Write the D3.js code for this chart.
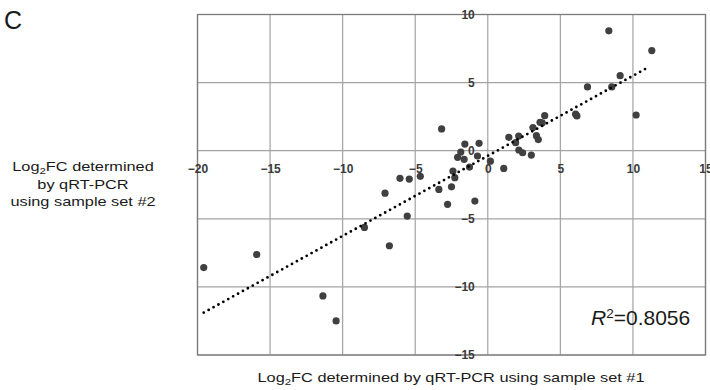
<!DOCTYPE html>
<html>
<head>
<meta charset="utf-8">
<script src="https://cdn.jsdelivr.net/npm/d3@7"></script>
<style>
  body { margin: 0; background: #fff; }
  svg { display: block; font-family: "Liberation Sans", Arial, sans-serif; }
  .tick text { font-weight: bold; fill: #3a3a3a; font-size: 12px; }
</style>
</head>
<body>
<svg width="710" height="390"></svg>
<script>
// values
var xTicks = [-20, -15, -10, -5, 0, 5, 10, 15];
var yTicks = [-15, -10, -5, 0, 5, 10];

var set1 = [-19.57, -15.92, -11.36, -10.45, -8.5, -6.78, -7.08, -5.55, -6.05, -5.41,
  -4.65, -3.37, -2.77, -0.89, -2.5, -2.27, -2.4, -1.26, -3.18, -1.58,
  -0.6, -1.86, -2.08, -1.63, -0.71, 0.18, 1.1, 1.45, 2.13, 1.92,
  2.14, 2.4, 3.0, 3.11, 3.35, 3.48, 3.6, 3.75, 3.92, 6.05,
  6.14, 6.87, 8.54, 9.12, 10.22, 8.34, 11.3];
var set2 = [-8.58, -7.62, -10.66, -12.5, -5.63, -6.98, -3.12, -4.8, -2.03, -2.08,
  -1.88, -2.84, -3.94, -3.7, -2.65, -1.98, -1.49, -1.2, 1.6, 0.49,
  0.54, -0.1, -0.49, -0.63, -0.39, -0.77, -1.3, 0.98, 1.08, 0.59,
  0.05, -0.15, -0.32, 1.7, 1.1, 0.82, 2.09, 2.05, 2.57, 2.68,
  2.55, 4.68, 4.68, 5.51, 2.62, 8.8, 7.35];

var trendSlope = 0.588;
var trendIntercept = -0.38;
var r2Label = "=0.8056";

var svg = d3.select("svg");

var x = d3.scaleLinear().domain([-20, 15]).range([197.5, 705.5]);
var y = d3.scaleLinear().domain([-15, 10]).range([355, 14.5]);

var g = svg.append("g");

// grid
g.selectAll(".vgrid")
  .data(xTicks)
  .enter()
  .append("line")
  .attr("x1", function(d) { return x(d); })
  .attr("x2", function(d) { return x(d); })
  .attr("y1", y(-15))
  .attr("y2", y(10))
  .attr("stroke", "#a3a3a3")
  .attr("stroke-width", 1.2);

g.selectAll(".hgrid")
  .data(yTicks)
  .enter()
  .append("line")
  .attr("x1", x(-20))
  .attr("x2", x(15))
  .attr("y1", function(d) { return y(d); })
  .attr("y2", function(d) { return y(d); })
  .attr("stroke", "#a3a3a3")
  .attr("stroke-width", 1.2);

g.append("rect")
  .attr("x", x(-20))
  .attr("y", y(10))
  .attr("width", x(15) - x(-20))
  .attr("height", y(-15) - y(10))
  .attr("fill", "none")
  .attr("stroke", "#7a7a7a")
  .attr("stroke-width", 1.3);

// axes crossing at zero
var xAxis = g.append("g")
  .attr("transform", "translate(0," + y(0) + ")")
  .call(d3.axisBottom(x).tickValues(xTicks).tickSize(0).tickPadding(14));
xAxis.select(".domain").remove();

var yAxis = g.append("g")
  .attr("transform", "translate(" + x(0) + ",0)")
  .call(d3.axisLeft(y).tickValues(yTicks).tickSize(0).tickPadding(13));
yAxis.select(".domain").remove();

svg.selectAll(".tick text").attr("font-family", null).attr("font-size", null);

// points
g.selectAll(".dot")
  .data(set1)
  .enter()
  .append("circle")
  .attr("class", "dot")
  .attr("cx", function(d) { return x(d); })
  .attr("cy", function(d, i) { return y(set2[i]); })
  .attr("r", 3.6)
  .attr("fill", "#404040");

// trend line
var xMin = d3.min(set1), xMax = d3.max(set1) - 0.3;
g.append("line")
  .attr("x1", x(xMin))
  .attr("y1", y(trendSlope * xMin + trendIntercept))
  .attr("x2", x(xMax))
  .attr("y2", y(trendSlope * xMax + trendIntercept))
  .attr("stroke", "#000")
  .attr("stroke-width", 2.8)
  .attr("stroke-linecap", "round")
  .attr("stroke-dasharray", "0 5.6");

// R squared
var r2 = svg.append("text")
  .attr("x", 591)
  .attr("y", 325)
  .style("font-size", "21px")
  .style("fill", "#1a1a1a");
r2.append("tspan").style("font-style", "italic").text("R");
r2.append("tspan").attr("dy", -7.5).style("font-size", "13.5px").text("2");
r2.append("tspan").attr("dy", 7.5).text(r2Label);

// panel letter
svg.append("text")
  .attr("x", 4)
  .attr("y", 29)
  .style("font-size", "25px")
  .style("fill", "#1a1a1a")
  .text("C");

// y title (text in the figure is a little stretched sideways)
var yTitle = svg.append("g")
  .attr("transform", "translate(83,0) scale(1.21,1)")
  .append("text")
  .attr("text-anchor", "middle")
  .style("font-size", "13.5px")
  .style("fill", "#1a1a1a");
var l1 = yTitle.append("tspan").attr("x", 0).attr("y", 171.5);
l1.append("tspan").text("Log");
l1.append("tspan").attr("dy", 3).style("font-size", "9.5px").text("2");
l1.append("tspan").attr("dy", -3).text("FC determined");
yTitle.append("tspan").attr("x", 0).attr("y", 189).text("by qRT-PCR");
yTitle.append("tspan").attr("x", 0).attr("y", 206.5).text("using sample set #2");

// x title
var xTitle = svg.append("g")
  .attr("transform", "translate(451,0) scale(1.21,1)")
  .append("text")
  .attr("x", 0)
  .attr("y", 382.5)
  .attr("text-anchor", "middle")
  .style("font-size", "13.5px")
  .style("fill", "#1a1a1a");
xTitle.append("tspan").text("Log");
xTitle.append("tspan").attr("dy", 3).style("font-size", "9.5px").text("2");
xTitle.append("tspan").attr("dy", -3).text("FC determined by qRT-PCR using sample set #1");
</script>
</body>
</html>
